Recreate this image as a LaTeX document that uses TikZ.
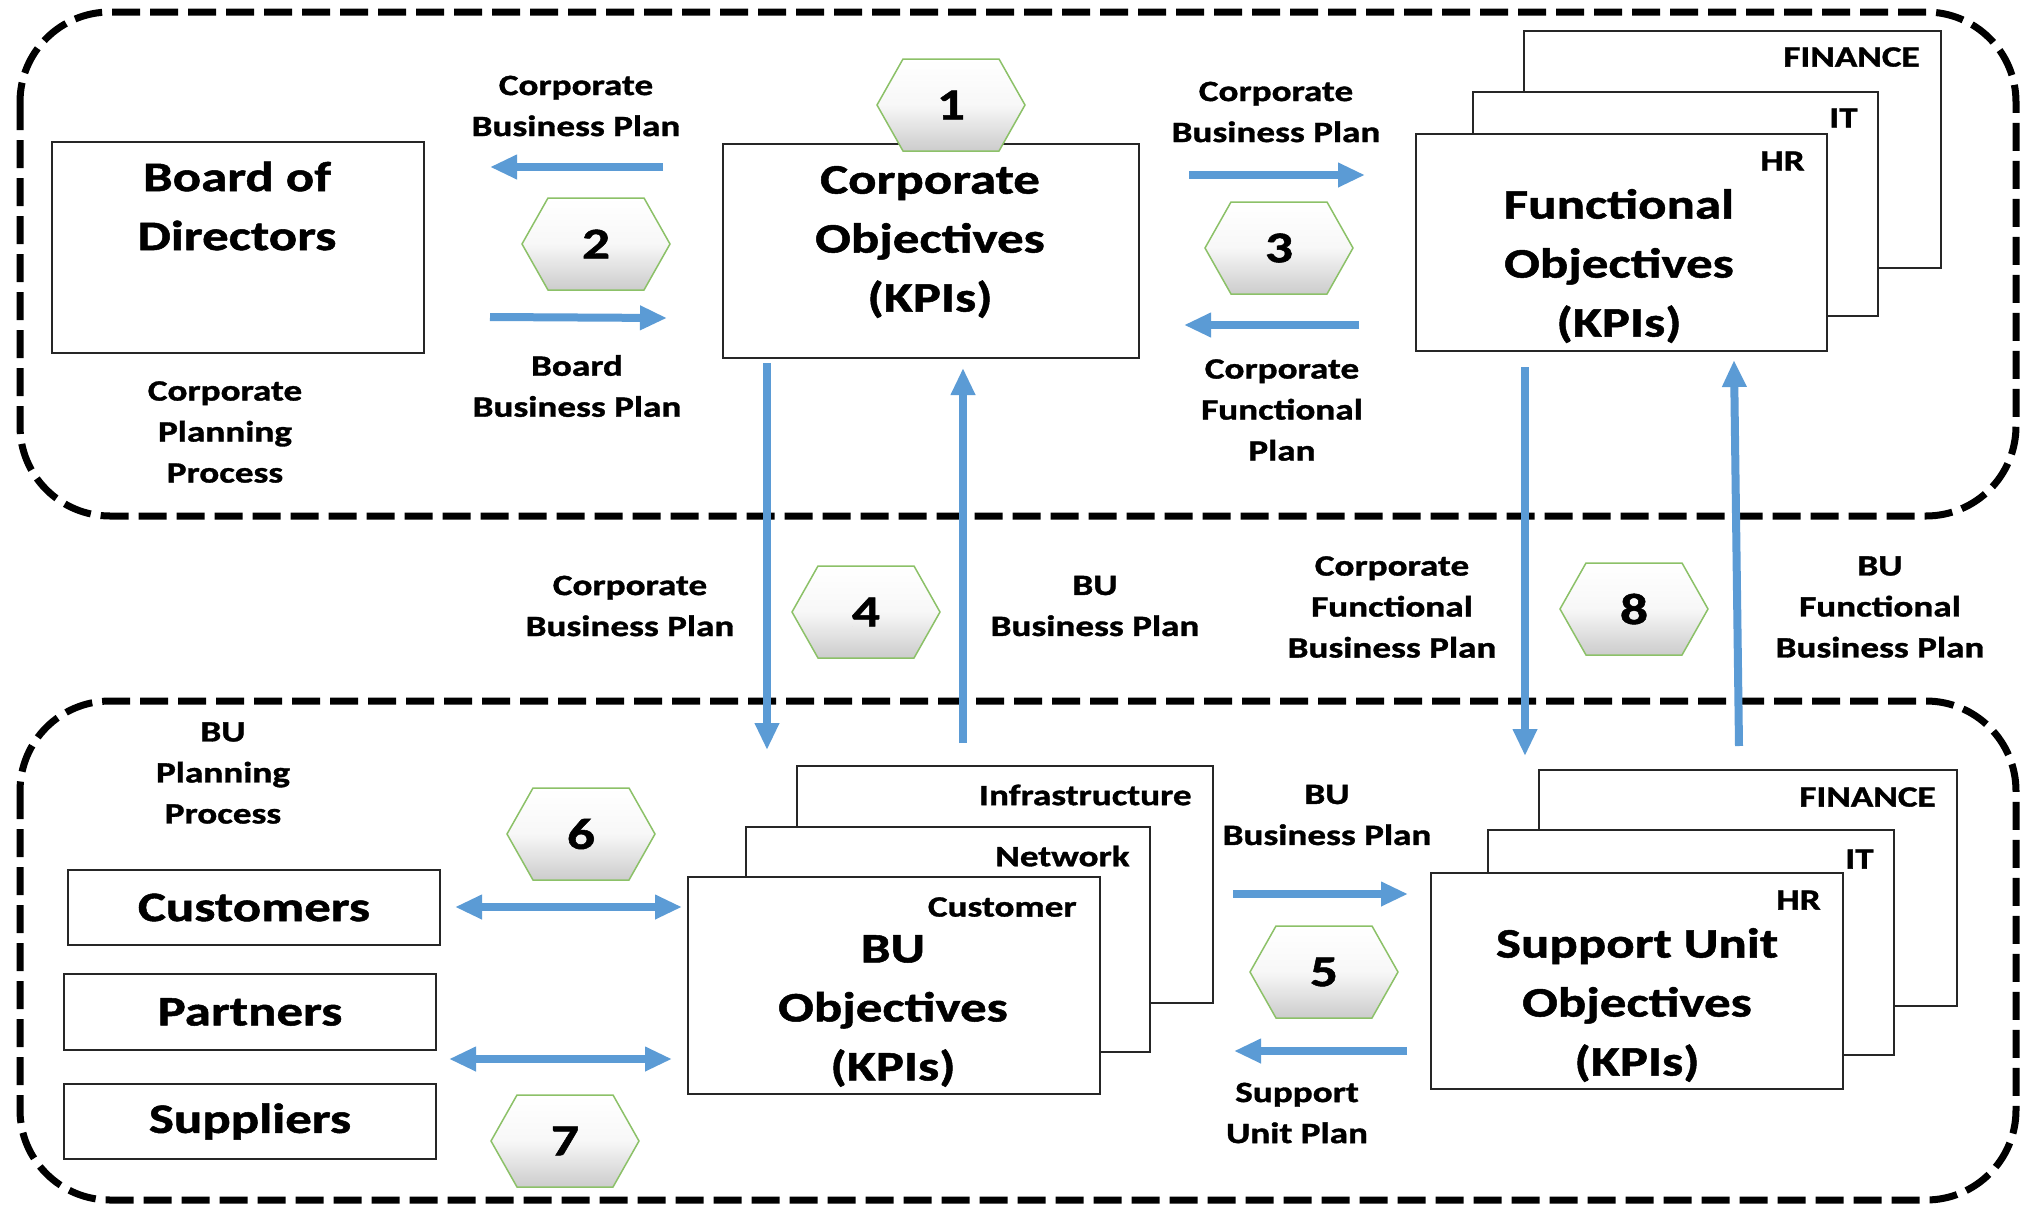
\documentclass[tikz,border=0pt]{standalone}
\usepackage{fontspec}
\setmainfont{Carlito}[FakeStretch=1.26, BoldFeatures={FakeBold=1.2}]
\usetikzlibrary{arrows.meta}
\definecolor{arrowblue}{HTML}{5B9BD5}
\definecolor{hexgreen}{HTML}{8CC168}
\newcommand\hexa[4]{%
  \path[hexs, shift={(#2,#3)}] (-74,0) -- (-48,-46) -- (48,-46) -- (74,0) -- (48,46) -- (-48,46) -- cycle;
  \node[digit] (#1) at (#2,#3) {#4};}
\begin{document}
\begin{tikzpicture}[x=0.5pt,y=-0.5pt,
  region/.style={draw=black, line width=3.5pt, dash pattern=on 14pt off 5pt, rounded corners=45pt},
  box/.style={draw=black!85, line width=0.7pt, fill=white, inner sep=0pt, outer sep=0pt},
  big/.style={font=\fontsize{21}{29.5}\selectfont\bfseries, align=center},
  lbl/.style={font=\fontsize{14.75}{20.5}\selectfont\bfseries, align=center},
  tag/.style={font=\fontsize{14.75}{20.5}\selectfont\bfseries, anchor=east, inner sep=0pt},
  flow/.style={draw=arrowblue, line width=4pt, -{Triangle[width=11.5pt,length=13.5pt]}},
  dflow/.style={draw=arrowblue, line width=4pt, {Triangle[width=11.5pt,length=13.5pt]}-{Triangle[width=11.5pt,length=13.5pt]}},
  hexs/.style={draw=hexgreen, line width=0.75pt, top color=white, bottom color=black!20, middle color=black!3},
  digit/.style={font=\fontsize{22}{24}\selectfont\bfseries}
]
\useasboundingbox[fill=white] (0,0) rectangle (2020,1205);

% regions
\draw[region] (20,12) rectangle (2016,516);
\draw[region] (20,701) rectangle (2016,1200);

% top row boxes
\node[box, minimum width=186pt, minimum height=105.5pt] (board) at (238,247.5) {};
\node[big] (boardt) at (237,206) {Board of\\Directors};
\node[box, minimum width=208pt, minimum height=107pt] (corp) at (931,251) {};
\node[big] (corpt) at (930,242) {Corporate\\Objectives\\(KPIs)};

\node[box, minimum width=208.5pt, minimum height=118.5pt] (fin1) at (1732.5,149.5) {};
\node[box, minimum width=202.5pt, minimum height=112pt] (it1) at (1675.5,204) {};
\node[box, minimum width=205.5pt, minimum height=108.5pt] (hr1) at (1621.5,242.5) {};
\node[tag] (fin1t) at (1920,57) {FINANCE};
\node[tag] (it1t) at (1858,118) {IT};
\node[tag] (hr1t) at (1805,161) {HR};
\node[big] (funct) at (1619,266) {Functional\\Objectives\\(KPIs)};

% bottom row boxes
\node[box, minimum width=186pt, minimum height=37.5pt, font=\fontsize{21}{24}\selectfont\bfseries] (cust) at (254,907.5) {Customers};
\node[box, minimum width=186pt, minimum height=38pt, font=\fontsize{21}{24}\selectfont\bfseries] (part) at (250,1012) {Partners};
\node[box, minimum width=186pt, minimum height=37.5pt, font=\fontsize{21}{24}\selectfont\bfseries] (supp) at (250,1121.5) {Suppliers};

\node[box, minimum width=208pt, minimum height=118.5pt] (infra) at (1005,884.5) {};
\node[box, minimum width=202pt, minimum height=112.5pt] (netw) at (948,939.5) {};
\node[box, minimum width=206pt, minimum height=108.5pt] (bu) at (894,985.5) {};
\node[tag] (infrat) at (1192,795) {Infrastructure};
\node[tag] (netwt) at (1130,856) {Network};
\node[tag] (bucust) at (1077,907) {Customer};
\node[big] (but) at (893,1011) {BU\\Objectives\\(KPIs)};

\node[box, minimum width=209pt, minimum height=118pt] (fin2) at (1748,888) {};
\node[box, minimum width=203pt, minimum height=112.5pt] (it2) at (1691,942.5) {};
\node[box, minimum width=206pt, minimum height=108pt] (hr2) at (1637,981) {};
\node[tag] (fin2t) at (1936,797) {FINANCE};
\node[tag] (it2t) at (1874,859) {IT};
\node[tag] (hr2t) at (1821,900) {HR};
\node[big] (sut) at (1637,1005) {Support Unit\\Objectives\\(KPIs)};

% labels
\node[lbl] (l1) at (576,106) {Corporate\\Business Plan};
\node[lbl] (l2) at (577,386) {Board\\Business Plan};
\node[lbl] (l3) at (1276,112) {Corporate\\Business Plan};
\node[lbl] (l4) at (1282,410) {Corporate\\Functional\\Plan};
\node[lbl] (l5) at (225,432) {Corporate\\Planning\\Process};
\node[lbl] (l6) at (630,606) {Corporate\\Business Plan};
\node[lbl] (l7) at (1095,606) {BU\\Business Plan};
\node[lbl] (l8) at (1392,607) {Corporate\\Functional\\Business Plan};
\node[lbl] (l9) at (1880,607) {BU\\Functional\\Business Plan};
\node[lbl] (l10) at (223,773) {BU\\Planning\\Process};
\node[lbl] (l11) at (1327,815) {BU\\Business Plan};
\node[lbl] (l12) at (1297,1113) {Support\\Unit Plan};

% hexagons
\hexa{h1}{951}{105}{1}
\hexa{h2}{596}{244}{2}
\hexa{h3}{1279}{248}{3}
\hexa{h4}{866}{612}{4}
\hexa{h5}{1324}{972}{5}
\hexa{h6}{581}{834}{6}
\hexa{h7}{565}{1141}{7}
\hexa{h8}{1634}{609}{8}

% arrow end points
\coordinate (a1s) at (663,167);  \coordinate (a1e) at (490,167);
\coordinate (a2s) at (490,317);  \coordinate (a2e) at (667,318);
\coordinate (a3s) at (1189,175); \coordinate (a3e) at (1365,175);
\coordinate (a4s) at (1359,325); \coordinate (a4e) at (1184,325);
\coordinate (a5s) at (767,363);  \coordinate (a5e) at (767,750);
\coordinate (a6s) at (963,743);  \coordinate (a6e) at (963,368);
\coordinate (a7s) at (1525,367); \coordinate (a7e) at (1525,756);
\coordinate (a8s) at (1739,746); \coordinate (a8e) at (1734,360);
\coordinate (a9s) at (455,907);  \coordinate (a9e) at (682,907);
\coordinate (a10s) at (449,1059); \coordinate (a10e) at (672,1059);
\coordinate (a11s) at (1233,894); \coordinate (a11e) at (1408,894);
\coordinate (a12s) at (1407,1051); \coordinate (a12e) at (1234,1051);

\draw[flow] (a1s) -- (a1e);
\draw[flow] (a2s) -- (a2e);
\draw[flow] (a3s) -- (a3e);
\draw[flow] (a4s) -- (a4e);
\draw[flow] (a5s) -- (a5e);
\draw[flow] (a6s) -- (a6e);
\draw[flow] (a7s) -- (a7e);
\draw[flow] (a8s) -- (a8e);
\draw[dflow] (a9s) -- (a9e);
\draw[dflow] (a10s) -- (a10e);
\draw[flow] (a11s) -- (a11e);
\draw[flow] (a12s) -- (a12e);
\end{tikzpicture}
\end{document}
